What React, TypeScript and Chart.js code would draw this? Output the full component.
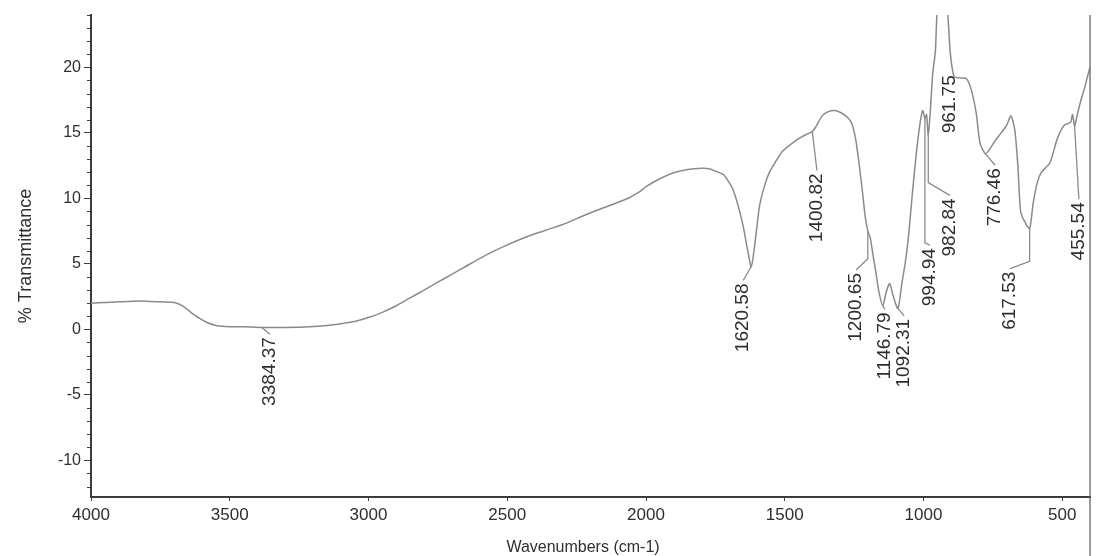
import React, { useEffect, useRef } from 'react';
import { Chart, registerables } from 'chart.js';

Chart.register(...registerables);

// ---- Data ----
const WAVENUMBERS = [
  4000, 3950, 3900, 3850, 3800, 3750, 3700, 3670, 3640, 3610, 3580, 3550, 3500, 3450,
  3384.37, 3300, 3212, 3150, 3094, 3050, 3000, 2950, 2900, 2850, 2800, 2750, 2700, 2650,
  2600, 2550, 2500, 2450, 2400, 2350, 2300, 2250, 2200, 2150, 2100, 2060, 2040, 2020,
  2000, 1950, 1900, 1850, 1800, 1770, 1740, 1720, 1700, 1687, 1670, 1651, 1635, 1620.58,
  1605, 1591, 1575, 1555, 1530, 1508, 1480, 1447, 1420, 1400.82, 1387, 1365, 1345, 1320,
  1294, 1270, 1258, 1245, 1233, 1220, 1210, 1200.65, 1192, 1183, 1172, 1160, 1146.79, 1135,
  1122, 1110, 1092.31, 1078, 1065, 1054, 1040, 1025, 1012, 1003, 994.94, 989, 982.84, 976,
  967, 961.75, 957, 950, 935, 915, 903, 890, 870, 846, 828, 810, 796, 776.46,
  760, 742, 720, 700, 685, 671, 660, 650, 635, 617.53, 605, 590, 575, 545,
  517, 492, 470, 463, 455.54, 448, 434, 420, 409, 400,
];

const TRANSMITTANCE = [
  2.0, 2.05, 2.1, 2.15, 2.15, 2.1, 2.05, 1.8, 1.3, 0.85, 0.5, 0.3, 0.2, 0.2,
  0.15, 0.15, 0.2, 0.3, 0.45, 0.6, 0.9, 1.3, 1.8, 2.4, 3.0, 3.6, 4.2, 4.8,
  5.4, 5.95, 6.45, 6.9, 7.3, 7.65, 8.0, 8.45, 8.9, 9.3, 9.7, 10.05, 10.3, 10.55,
  10.9, 11.5, 11.95, 12.2, 12.3, 12.25, 12.0, 11.8, 11.2, 10.7, 9.6, 8.0, 6.2, 4.8,
  7.0, 9.4, 10.8, 12.0, 12.9, 13.6, 14.1, 14.6, 14.9, 15.1, 15.5, 16.3, 16.6, 16.7,
  16.5, 16.1, 15.7, 14.6, 12.8, 10.5, 8.6, 7.5, 7.0, 5.8, 4.4, 2.8, 1.8, 2.8,
  3.5, 2.6, 1.6, 3.5, 5.2, 7.1, 10.4, 13.6, 15.8, 16.7, 16.1, 16.4, 14.8, 16.5,
  19.5, 20.4, 21.3, 24.5, 26.0, 24.5, 21.0, 19.3, 19.2, 19.15, 18.3, 16.5, 14.2, 13.4,
  13.8, 14.4, 15.0, 15.6, 16.3, 15.2, 12.5, 9.0, 8.2, 7.7, 9.6, 11.2, 12.0, 12.7,
  14.6, 15.6, 15.8, 16.4, 15.5, 16.2, 17.4, 18.4, 19.3, 20.0,
];

const X_TICKS = [4000, 3500, 3000, 2500, 2000, 1500, 1000, 500];
const Y_TICKS = [-10, -5, 0, 5, 10, 15, 20];

const PEAK_LABELS = [
  '3384.37', '1620.58', '1400.82', '1200.65', '1146.79', '1092.31',
  '994.94', '982.84', '961.75', '776.46', '617.53', '455.54',
];
const PEAK_WAVENUMBERS = [
  3384.37, 1620.58, 1400.82, 1200.65, 1146.79, 1092.31,
  994.94, 982.84, 961.75, 776.46, 617.53, 455.54,
];
// annotation placement in data units (text centre wavenumber, text top %T, elbow %T)
const LABEL_TEXT_X = [3355, 1650, 1384, 1243, 1139, 1070, 977, 905, 905, 742, 688, 440];
const LABEL_TEXT_TOP = [-0.6, 3.5, 11.9, 4.3, 1.3, 0.8, 6.2, 10.0, 19.4, 12.3, 4.4, 9.7];
const LABEL_ELBOW: (number | null)[] = [null, null, null, 5.4, null, null, 6.6, 11.2, null, null, 5.2, null];
const LABEL_HAS_LEADER = [true, true, true, true, true, true, true, true, false, true, true, true];

const X_TITLE = 'Wavenumbers (cm-1)';
const Y_TITLE = '% Transmittance';

const FONT = '"Liberation Sans", Arial, Helvetica, sans-serif';
const AXIS_COLOR = '#3c3c3c';
const CURVE_COLOR = '#8a8a8a';
const TEXT_COLOR = '#2e2e2e';

const annotationPlugin = {
  id: 'ftirAnnotations',
  afterDatasetsDraw(chart: any) {
    const { ctx, chartArea, scales } = chart;
    const xs = scales.x;
    const ys = scales.y;
    ctx.save();

    // minor y ticks
    ctx.strokeStyle = AXIS_COLOR;
    ctx.lineWidth = 1;
    for (let v = -12; v <= 24; v++) {
      if (v % 5 === 0) continue;
      const py = Math.round(ys.getPixelForValue(v)) + 0.5;
      ctx.beginPath();
      ctx.moveTo(chartArea.left - 4, py);
      ctx.lineTo(chartArea.left, py);
      ctx.stroke();
    }

    // right frame line
    ctx.strokeStyle = '#5a5a5a';
    ctx.lineWidth = 1.2;
    ctx.beginPath();
    ctx.moveTo(chartArea.right, chartArea.top);
    ctx.lineTo(chartArea.right, chart.height);
    ctx.stroke();

    // peak labels
    ctx.font = `19px ${FONT}`;
    ctx.fillStyle = TEXT_COLOR;
    for (let i = 0; i < PEAK_LABELS.length; i++) {
      const wn = PEAK_WAVENUMBERS[i];
      const idx = WAVENUMBERS.indexOf(wn);
      const cv = TRANSMITTANCE[idx];
      const px = xs.getPixelForValue(wn);
      const py = ys.getPixelForValue(cv);
      const tx = xs.getPixelForValue(LABEL_TEXT_X[i]);
      const ty = ys.getPixelForValue(LABEL_TEXT_TOP[i]);
      if (LABEL_HAS_LEADER[i]) {
        ctx.strokeStyle = CURVE_COLOR;
        ctx.lineWidth = 1.3;
        ctx.beginPath();
        ctx.moveTo(px, py);
        const el = LABEL_ELBOW[i];
        if (el !== null) ctx.lineTo(px, ys.getPixelForValue(el));
        ctx.lineTo(tx, ty - 3);
        ctx.stroke();
      }
      ctx.save();
      ctx.translate(tx, ty);
      ctx.rotate(-Math.PI / 2);
      ctx.textAlign = 'right';
      ctx.textBaseline = 'middle';
      ctx.fillText(PEAK_LABELS[i], 0, 0);
      ctx.restore();
    }

    // axis titles
    ctx.fillStyle = TEXT_COLOR;
    ctx.font = `16px ${FONT}`;
    ctx.textAlign = 'center';
    ctx.textBaseline = 'alphabetic';
    ctx.fillText(X_TITLE, 583, 552);

    ctx.save();
    ctx.font = `18px ${FONT}`;
    ctx.translate(31, (chartArea.top + chartArea.bottom) / 2);
    ctx.rotate(-Math.PI / 2);
    ctx.textAlign = 'center';
    ctx.textBaseline = 'alphabetic';
    ctx.fillText(Y_TITLE, 0, 0);
    ctx.restore();

    ctx.restore();
  },
};

export default function App() {
  const canvasRef = useRef<HTMLCanvasElement | null>(null);

  useEffect(() => {
    document.body.style.margin = '0';
    const canvas = canvasRef.current;
    if (!canvas) return;
    const points = WAVENUMBERS.map((x, i) => ({ x, y: TRANSMITTANCE[i] }));
    const chart = new Chart(canvas, {
      type: 'line',
      data: {
        datasets: [
          {
            data: points,
            borderColor: CURVE_COLOR,
            borderWidth: 1.5,
            pointRadius: 0,
            tension: 0.25,
            fill: false,
          },
        ],
      },
      options: {
        animation: false,
        responsive: false,
        maintainAspectRatio: false,
        layout: { padding: { top: 15, right: 26, left: 0, bottom: 0 } },
        plugins: { legend: { display: false }, tooltip: { enabled: false } },
        scales: {
          x: {
            type: 'linear',
            min: 400,
            max: 4000,
            reverse: true,
            afterBuildTicks: (s: any) => {
              s.ticks = X_TICKS.map((v) => ({ value: v }));
            },
            afterFit: (s: any) => {
              s.height = 59;
            },
            ticks: {
              color: TEXT_COLOR,
              font: { family: FONT, size: 17 },
              padding: 4,
              maxRotation: 0,
              autoSkip: false,
              callback: (v: any) => String(v),
            },
            grid: {
              display: true,
              drawOnChartArea: false,
              drawTicks: true,
              tickLength: 4,
              color: AXIS_COLOR,
            },
            border: { display: true, color: AXIS_COLOR, width: 2 },
          },
          y: {
            type: 'linear',
            min: -12.8,
            max: 24,
            afterBuildTicks: (s: any) => {
              s.ticks = Y_TICKS.map((v) => ({ value: v }));
            },
            afterFit: (s: any) => {
              s.width = 91;
            },
            ticks: {
              color: TEXT_COLOR,
              font: { family: FONT, size: 16 },
              padding: 3,
              autoSkip: false,
              callback: (v: any) => String(v),
            },
            grid: {
              display: true,
              drawOnChartArea: false,
              drawTicks: true,
              tickLength: 7,
              color: AXIS_COLOR,
            },
            border: { display: true, color: AXIS_COLOR, width: 2 },
          },
        },
      },
      plugins: [annotationPlugin],
    });
    return () => chart.destroy();
  }, []);

  return (
    <div style={{ width: 1116, height: 556, background: '#fff' }}>
      <canvas ref={canvasRef} width={1116} height={556} style={{ display: 'block' }} />
    </div>
  );
}
